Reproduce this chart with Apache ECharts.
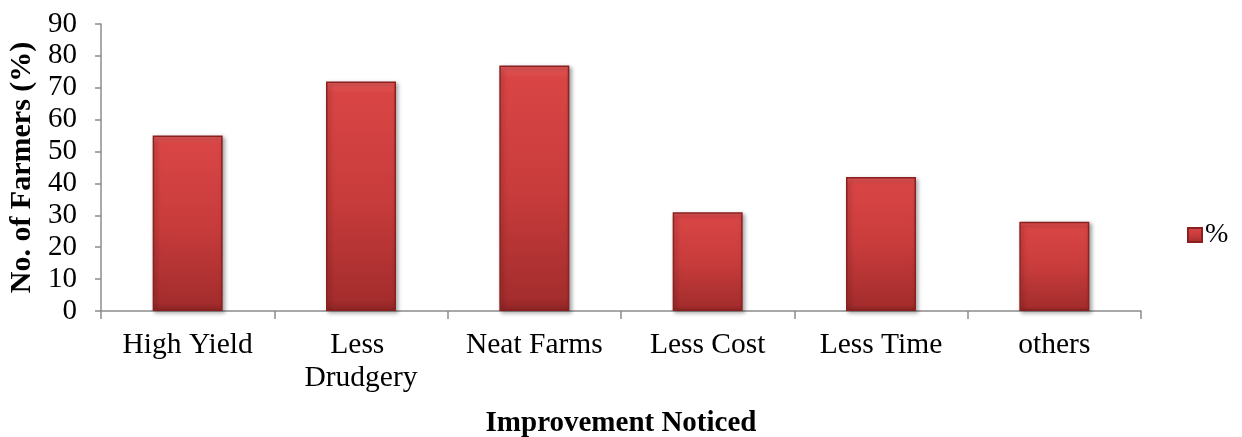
<!DOCTYPE html>
<html>
<head>
<meta charset="utf-8">
<script src="https://cdn.jsdelivr.net/npm/echarts@6/dist/echarts.min.js"></script>
<style>
  html, body { margin: 0; padding: 0; background: #fff; }
  #main { width: 1242px; height: 437px; }
</style>
</head>
<body>
<div id="main"></div>
<script>
// data
var categories = ['High Yield', 'Less Drudgery', 'Neat Farms', 'Less Cost', 'Less Time', 'others'];
var percent = [55, 72, 77, 31, 42, 28];
var seriesName = '%';

var font = '"Liberation Serif", "Times New Roman", serif';
var axisGray = '#8c8c8c';

var chart = echarts.init(document.getElementById('main'));
var option = {
    backgroundColor: '#fff',
    animation: false,
    textStyle: { fontFamily: font, color: '#000' },
    grid: { left: 101, right: 101, top: 24, bottom: 126, containLabel: false, outerBoundsMode: 'none' },
    legend: {
        data: [seriesName],
        left: 1182,
        top: 216,
        itemWidth: 14,
        itemHeight: 14,
        icon: 'rect',
        textStyle: { fontFamily: font, fontSize: 28, color: '#000', padding: [0, 0, 0, -2] }
    },
    xAxis: {
        type: 'category',
        data: categories,
        name: 'Improvement Noticed',
        nameLocation: 'middle',
        nameGap: 98,
        nameTextStyle: { fontFamily: font, fontSize: 29, fontWeight: 'bold', color: '#000' },
        axisLine: { lineStyle: { color: axisGray, width: 1.5 } },
        axisTick: { show: true, length: 8, interval: 0, alignWithLabel: false, lineStyle: { color: axisGray, width: 1.5 } },
        axisLabel: {
            interval: 0,
            fontFamily: font, fontSize: 29.5, color: '#000', margin: 18,
            width: 165, overflow: 'break', lineHeight: 33
        }
    },
    yAxis: {
        type: 'value',
        min: 0,
        max: 90,
        interval: 10,
        name: 'No. of Farmers (%)',
        nameLocation: 'middle',
        nameGap: 64,
        nameTextStyle: { fontFamily: font, fontSize: 30, fontWeight: 'bold', color: '#000' },
        splitLine: { show: false },
        axisLine: { show: true, lineStyle: { color: axisGray, width: 1.5 } },
        axisTick: { show: true, length: 6, lineStyle: { color: axisGray, width: 1.5 } },
        axisLabel: { fontFamily: font, fontSize: 29, color: '#000', margin: 24 }
    },
    series: [
        {
            name: seriesName,
            type: 'bar',
            data: percent,
            barWidth: 70,
            itemStyle: {
                color: new echarts.graphic.LinearGradient(0, 0, 0, 1, [
                    { offset: 0, color: '#e55a5a' },
                    { offset: 0.05, color: '#d94545' },
                    { offset: 0.5, color: '#c93c3c' },
                    { offset: 0.95, color: '#a52d2d' },
                    { offset: 1, color: '#8e2424' }
                ]),
                borderColor: '#8a2020',
                borderWidth: 1.5,
                shadowColor: 'rgba(0,0,0,0.35)',
                shadowBlur: 4,
                shadowOffsetX: 2,
                shadowOffsetY: 2
            }
        }
    ]
};
chart.setOption(option);
</script>
</body>
</html>
